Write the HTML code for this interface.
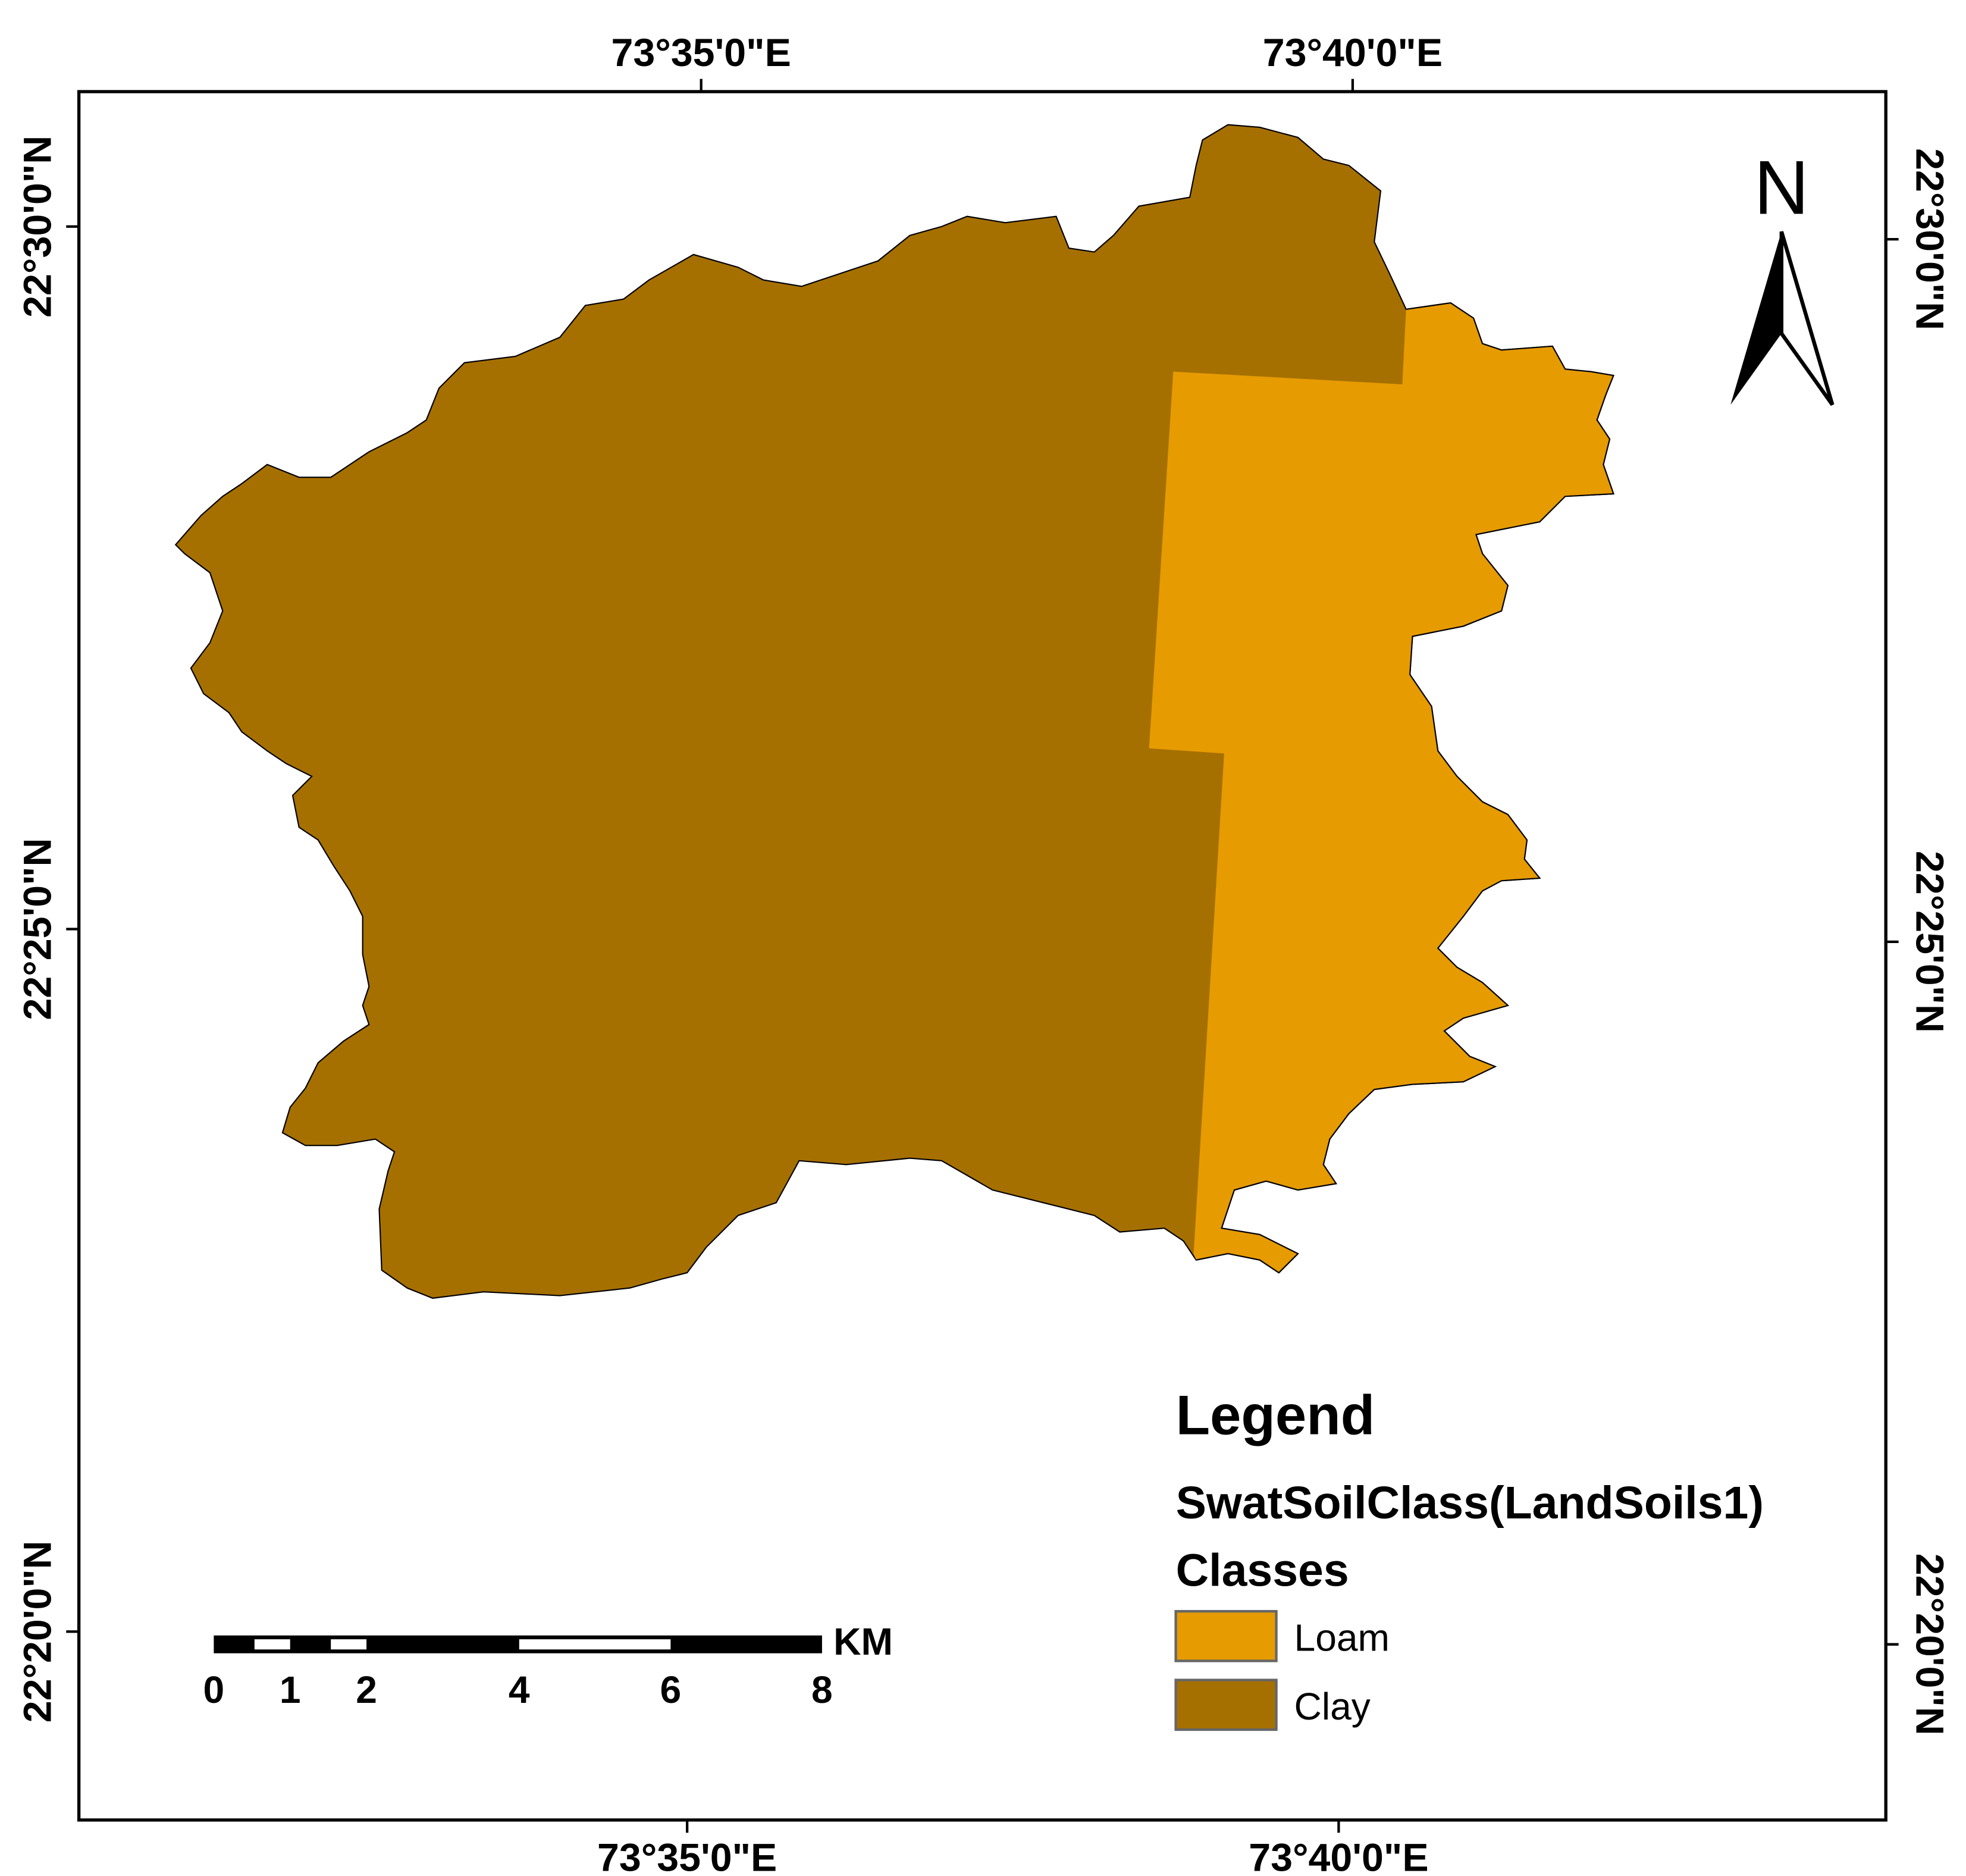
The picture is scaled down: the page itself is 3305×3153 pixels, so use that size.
<!DOCTYPE html>
<html><head><meta charset="utf-8"><style>
html,body{margin:0;padding:0;background:#fff;}
svg{display:block;}
text{font-family:"Liberation Sans",Arial,sans-serif;}
</style></head><body>
<svg width="3305" height="3153" viewBox="0 0 1545 1474" preserveAspectRatio="none">
<rect x="0" y="0" width="1545" height="1474" fill="#fff"/>
<rect x="62" y="72" width="1420" height="1358" fill="none" stroke="#000" stroke-width="2.5"/>
<g stroke="#000" stroke-width="2">
<line x1="551" y1="72" x2="551" y2="62"/><line x1="1063" y1="72" x2="1063" y2="62"/>
<line x1="540" y1="1430" x2="540" y2="1440"/><line x1="1052" y1="1430" x2="1052" y2="1440"/>
<line x1="62" y1="178" x2="52" y2="178"/><line x1="62" y1="730" x2="52" y2="730"/><line x1="62" y1="1282" x2="52" y2="1282"/>
<line x1="1482" y1="188" x2="1492" y2="188"/><line x1="1482" y1="740" x2="1492" y2="740"/><line x1="1482" y1="1292" x2="1492" y2="1292"/>
</g>
<g font-size="31" font-weight="bold" text-anchor="middle" fill="#000">
<text x="551" y="52">73°35'0"E</text>
<text x="1063" y="52">73°40'0"E</text>
<text x="540" y="1470">73°35'0"E</text>
<text x="1052" y="1470">73°40'0"E</text>
<text transform="translate(40,178) rotate(-90)">22°30'0"N</text>
<text transform="translate(40,730) rotate(-90)">22°25'0"N</text>
<text transform="translate(40,1282) rotate(-90)">22°20'0"N</text>
<text transform="translate(1506,188) rotate(90)">22°30'0"N</text>
<text transform="translate(1506,740) rotate(90)">22°25'0"N</text>
<text transform="translate(1506,1292) rotate(90)">22°20'0"N</text>
</g>
<polygon fill="#A67000" stroke="#000" stroke-width="1" points="940,130 945,110 965,98 990,100 1020,108 1040,125 1060,130 1085,150 1080,190 1092,215 1105,243 1140,238 1158,250 1165,270 1180,275 1220,272 1230,290 1250,292 1268,295 1262,310 1255,330 1265,345 1260,365 1268,388 1230,390 1210,410 1160,420 1165,435 1185,460 1180,480 1150,492 1110,500 1108,530 1125,555 1130,590 1145,610 1165,630 1185,640 1200,660 1198,675 1210,690 1180,692 1165,700 1150,720 1130,745 1145,760 1165,772 1185,790 1150,800 1135,810 1155,830 1175,838 1150,850 1110,852 1080,856 1060,875 1045,895 1040,915 1050,930 1020,935 995,928 970,935 965,950 960,965 990,970 1020,985 1005,1000 990,990 965,985 940,990 930,975 915,965 880,968 860,955 820,945 780,935 740,912 715,910 665,915 628,912 610,945 580,955 555,980 540,1000 520,1005 495,1012 440,1018 380,1015 340,1020 320,1012 300,998 298,950 305,920 310,905 295,895 265,900 240,900 222,890 228,870 240,855 250,835 270,818 290,805 285,790 290,775 285,750 285,720 275,700 262,680 250,660 235,650 230,625 245,610 225,600 210,590 190,575 180,560 160,545 150,525 165,505 175,480 165,450 145,435 138,428 158,405 175,390 190,380 210,365 235,375 260,375 290,355 320,340 335,330 345,305 365,285 405,280 440,265 460,240 490,235 510,220 545,200 580,210 600,220 630,225 660,215 690,205 715,185 740,178 760,170 790,175 830,170 840,195 860,198 875,185 895,162 935,155"/>
<polygon fill="#E69B00" stroke="none" points="922,292 1102,302 1105,243 1140,238 1158,250 1165,270 1180,275 1220,272 1230,290 1250,292 1268,295 1262,310 1255,330 1265,345 1260,365 1268,388 1230,390 1210,410 1160,420 1165,435 1185,460 1180,480 1150,492 1110,500 1108,530 1125,555 1130,590 1145,610 1165,630 1185,640 1200,660 1198,675 1210,690 1180,692 1165,700 1150,720 1130,745 1145,760 1165,772 1185,790 1150,800 1135,810 1155,830 1175,838 1150,850 1110,852 1080,856 1060,875 1045,895 1040,915 1050,930 1020,935 995,928 970,935 965,950 960,965 990,970 1020,985 1005,1000 990,990 965,985 940,990 938,985 962,592 903,588"/>
<polyline fill="none" stroke="#000" stroke-width="1" points="1105,243 1140,238 1158,250 1165,270 1180,275 1220,272 1230,290 1250,292 1268,295 1262,310 1255,330 1265,345 1260,365 1268,388 1230,390 1210,410 1160,420 1165,435 1185,460 1180,480 1150,492 1110,500 1108,530 1125,555 1130,590 1145,610 1165,630 1185,640 1200,660 1198,675 1210,690 1180,692 1165,700 1150,720 1130,745 1145,760 1165,772 1185,790 1150,800 1135,810 1155,830 1175,838 1150,850 1110,852 1080,856 1060,875 1045,895 1040,915 1050,930 1020,935 995,928 970,935 965,950 960,965 990,970 1020,985 1005,1000 990,990 965,985 940,990"/>
<g>
<text x="1400" y="168" font-size="60" text-anchor="middle" fill="#000">N</text>
<polygon points="1400,182 1360,318 1400,262" fill="#000"/>
<polygon points="1400,182 1440,318 1400,262" fill="#fff" stroke="#000" stroke-width="3"/>
</g>
<g>
<rect x="168" y="1285" width="478" height="14" fill="#000"/>
<rect x="200" y="1288" width="28" height="8" fill="#fff"/>
<rect x="260" y="1288" width="28" height="8" fill="#fff"/>
<rect x="408" y="1288" width="119" height="8" fill="#fff"/>
<g font-size="30" font-weight="bold" text-anchor="middle">
<text x="168" y="1338">0</text><text x="228" y="1338">1</text><text x="288" y="1338">2</text>
<text x="408" y="1338">4</text><text x="527" y="1338">6</text><text x="646" y="1338">8</text>
</g>
<text x="655" y="1300" font-size="30" font-weight="bold">KM</text>
</g>
<g>
<text x="924" y="1127" font-size="44" font-weight="bold">Legend</text>
<text x="924" y="1193" font-size="36" font-weight="bold">SwatSoilClass(LandSoils1)</text>
<text x="924" y="1246" font-size="36" font-weight="bold">Classes</text>
<rect x="924" y="1266" width="79" height="39" fill="#E69B00" stroke="#666" stroke-width="2"/>
<text x="1017" y="1297" font-size="30">Loam</text>
<rect x="924" y="1320" width="79" height="39" fill="#A67000" stroke="#666" stroke-width="2"/>
<text x="1017" y="1351" font-size="30">Clay</text>
</g>
</svg>
</body></html>
